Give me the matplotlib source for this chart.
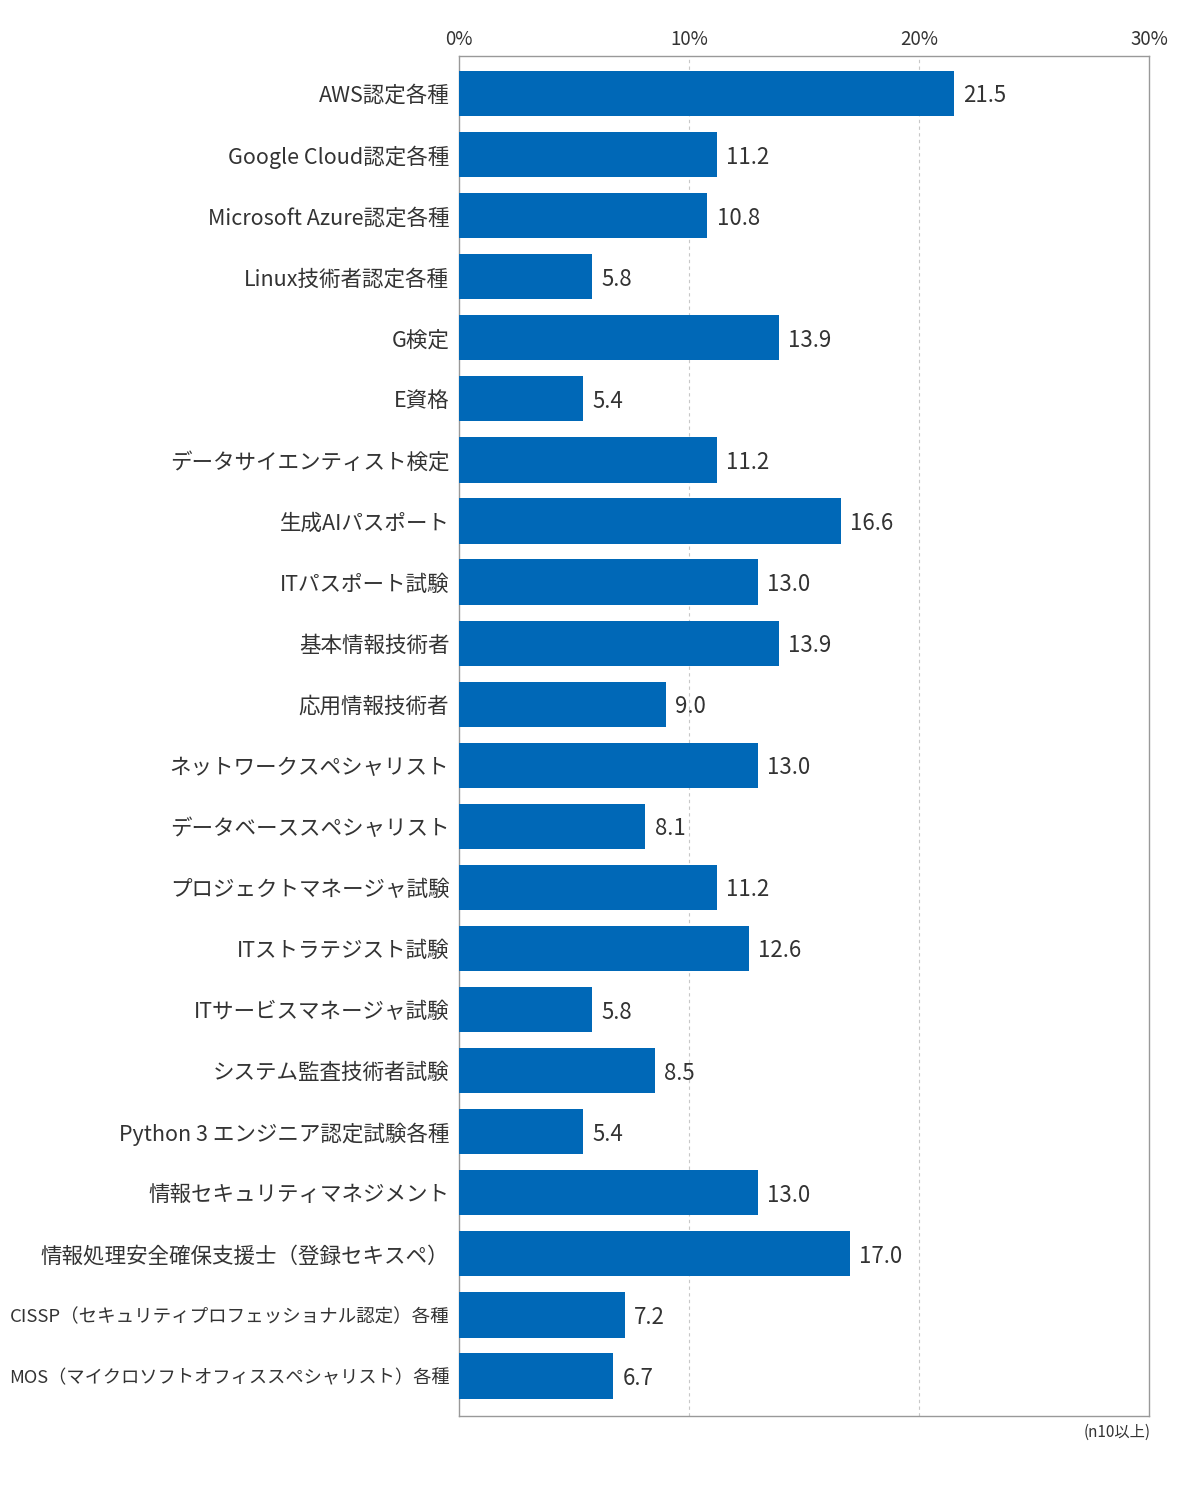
import matplotlib
matplotlib.use("Agg")
import matplotlib.pyplot as plt

plt.rcParams['font.family'] = ['Noto Sans CJK JP', 'DejaVu Sans']

categories = [
    "AWS認定各種",
    "Google Cloud認定各種",
    "Microsoft Azure認定各種",
    "Linux技術者認定各種",
    "G検定",
    "E資格",
    "データサイエンティスト検定",
    "生成AIパスポート",
    "ITパスポート試験",
    "基本情報技術者",
    "応用情報技術者",
    "ネットワークスペシャリスト",
    "データベーススペシャリスト",
    "プロジェクトマネージャ試験",
    "ITストラテジスト試験",
    "ITサービスマネージャ試験",
    "システム監査技術者試験",
    "Python 3 エンジニア認定試験各種",
    "情報セキュリティマネジメント",
    "情報処理安全確保支援士（登録セキスペ）",
    "CISSP（セキュリティプロフェッショナル認定）各種",
    "MOS（マイクロソフトオフィススペシャリスト）各種",
]
values = [21.5, 11.2, 10.8, 5.8, 13.9, 5.4, 11.2, 16.6, 13.0, 13.9, 9.0,
          13.0, 8.1, 11.2, 12.6, 5.8, 8.5, 5.4, 13.0, 17.0, 7.2, 6.7]
xticks = [0, 10, 20, 30]
xtick_labels = ["0%", "10%", "20%", "30%"]

bar_color = "#0068b7"
text_color = "#333333"

fig = plt.figure(figsize=(12, 14.85), dpi=100)
ax = fig.add_axes([459 / 1200, 1 - 1416 / 1485, 690 / 1200, 1360 / 1485])

y = list(range(len(categories)))
ax.barh(y, values, height=0.74, color=bar_color, zorder=3)

for yi, v in zip(y, values):
    ax.text(v + 0.4, yi + 0.04, f"{v:.1f}", va="center", ha="left",
            fontsize=16, color=text_color, zorder=4)

ax.set_xlim(0, 30)
ax.set_ylim(21.655, -0.614)
ax.set_yticks(y)
ax.set_yticklabels(categories, fontsize=15.5, color=text_color)
ax.set_xticks(xticks)
ax.set_xticklabels(xtick_labels, fontsize=13.5, color=text_color)
ax.xaxis.tick_top()
ax.tick_params(axis="both", length=0)
ax.tick_params(axis="y", pad=7)
ax.tick_params(axis="x", pad=4)

for s in ax.spines.values():
    s.set_color("#999999")
    s.set_linewidth(1.0)

for gx in xticks[1:-1]:
    ax.axvline(gx, color="#c8c8c8", linestyle=(0, (3, 3)), linewidth=0.8, zorder=1)

fig.text(1151 / 1200, 1 - 1432 / 1485, "(n10以上)", ha="right", va="center",
         fontsize=11, color=text_color)

# shrink the long category labels so they stay inside the figure
fig.canvas.draw()
renderer = fig.canvas.get_renderer()
for lbl in ax.get_yticklabels():
    bb = lbl.get_window_extent(renderer)
    if bb.x0 < 10:
        avail = bb.x1 - 10
        lbl.set_fontsize(lbl.get_fontsize() * avail / bb.width)

fig.savefig("out.png", dpi=100, facecolor="white")
